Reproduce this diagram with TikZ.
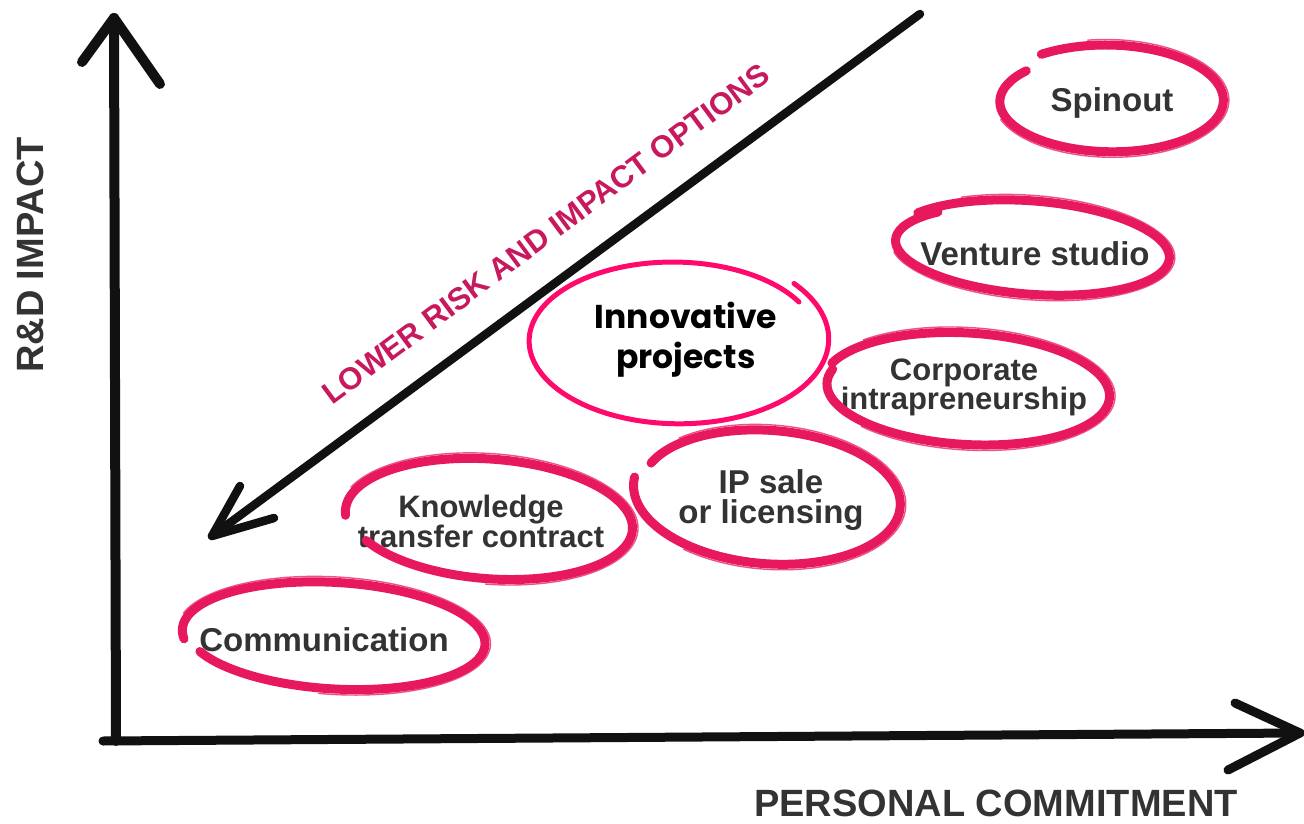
\documentclass[tikz,border=0pt]{standalone}
\usepackage{fontspec}
\setmainfont{Liberation Sans}
\newfontfamily\popfont{Poppins}
\definecolor{inkblack}{HTML}{111111}
\definecolor{pinkbrush}{HTML}{E8185D}
\definecolor{hotpink}{HTML}{FF0A6C}
\definecolor{labelgray}{HTML}{333333}
\definecolor{diagpink}{HTML}{C8185E}
% #1 node, #2 offset, #3 rx, #4 ry, #5 start, #6 sweep, #7 radius change, #8 rotation, #9 style
\newcommand\brushloop[9]{%
  \begin{scope}[shift={(#1.center)},shift={(#2)},rotate=#8]
    \draw[#9] plot[domain=#5:#5+#6, samples=90, smooth]
      ({(#3-#7*(\x-(#5))/(#6))*cos(\x)},{(#4-#7*(\x-(#5))/(#6))*sin(\x)});
  \end{scope}}
\newcommand\bristle[8]{%
  \begin{scope}[shift={(#1.center)},shift={(#2)},rotate=#8]
    \draw[bristleline] plot[domain=#5+25:#5+#6-60, samples=70, smooth]
      ({(#3+5.5-#7*(\x-(#5))/(#6))*cos(\x)},{(#4+5.5-#7*(\x-(#5))/(#6))*sin(\x)});
  \end{scope}}
\tikzset{
  axisline/.style={draw=inkblack, line width=10pt, line cap=round, line join=round},
  diagline/.style={draw=inkblack, line width=8.5pt, line cap=round, line join=round},
  brushstroke/.style={draw=pinkbrush, line width=9pt, line cap=round},
  bristleline/.style={draw=pinkbrush, line width=1.4pt, opacity=0.75, line cap=round},
  thinstroke/.style={draw=hotpink, line width=5pt, line cap=round},
  lbl/.style={font=\bfseries\fontsize{33}{30}\selectfont, text=labelgray, inner sep=0pt, align=center},
  lblsm/.style={font=\bfseries\fontsize{31}{29}\selectfont, text=labelgray, inner sep=0pt, align=center},
  axlbl/.style={font=\bfseries\fontsize{38}{38}\selectfont, text=labelgray, inner sep=0pt},
  innovlbl/.style={font=\popfont\bfseries\fontsize{33}{40}\selectfont, text=black, inner sep=0pt, align=center},
  diaglbl/.style={font=\bfseries\fontsize{31}{31}\selectfont, text=diagpink, inner sep=0pt}
}
\begin{document}
\begin{tikzpicture}[x=1pt,y=-1pt]
\fill[white] (0,0) rectangle (1304,824);
\useasboundingbox (0,0) rectangle (1304,824);

% axes
\coordinate (orig) at (116,741);
\coordinate (ytop) at (114,18);
\coordinate (ybl) at (82,62);
\coordinate (ybr) at (160,84);
\coordinate (xend) at (1300,733);
\coordinate (xbu) at (1235,703);
\coordinate (xbd) at (1228,770);
\coordinate (xstart) at (103,741);
\draw[axisline] (orig) -- (ytop);
\draw[axisline] (ybl) -- (ytop) -- (ybr);
\draw[axisline, line width=9pt] (xstart) -- (xend);
\draw[axisline, line width=9pt] (xbu) -- (xend) -- (xbd);

% diagonal arrow
\coordinate (dtop) at (920,14);
\coordinate (dtip) at (212,536);
\coordinate (dbl) at (240,486);
\coordinate (dbr) at (274,518);
\draw[diagline] (dtop) -- (dtip);
\draw[diagline] (dbl) -- (dtip) -- (dbr);

% labels
\node[axlbl, rotate=90] (ylab) at (30,255) {R\&D IMPACT};
\node[axlbl] (xlab) at (996,803) {PERSONAL COMMITMENT};
\node[diaglbl, rotate=36.6] (risk) at (546,234) {LOWER RISK AND IMPACT OPTIONS};

% option nodes
\node[lbl] (spin) at (1112,103) {Spinout};
\node[lbl] (vent) at (1035,254) {Venture studio};
\node[lblsm] (corp) at (964,387) {Corporate\\intrapreneurship};
\node[lbl] (ipsl) at (771,500) {IP sale\\or licensing};
\node[lblsm] (know) at (481,521) {Knowledge\\transfer contract};
\node[lbl] (comm) at (324,640) {Communication};
\node[innovlbl] (innov) at (686,340) {Innovative\\projects};

% hand-drawn loops
\brushloop{spin}{-3,-2}{118}{57}{235}{345}{10}{0}{brushstroke}
\bristle{spin}{-3,-2}{118}{57}{235}{345}{10}{0}
\brushloop{vent}{-4,-5}{141}{49}{215}{370}{6}{-4}{brushstroke}
\bristle{vent}{-4,-5}{141}{49}{215}{370}{6}{-4}
\brushloop{corp}{3,3}{145}{58}{200}{355}{5}{-3}{brushstroke}
\bristle{corp}{3,3}{145}{58}{200}{355}{5}{-3}
\brushloop{ipsl}{-2,-5}{128}{63}{200}{345}{-8}{-5}{brushstroke}
\bristle{ipsl}{-2,-5}{128}{63}{200}{345}{-8}{-5}
\brushloop{know}{9,-1}{145}{62}{175}{335}{4}{-4}{brushstroke}
\bristle{know}{9,-1}{145}{62}{175}{335}{4}{-4}
\brushloop{comm}{11,-3}{153}{56}{170}{345}{5}{-3}{brushstroke}
\bristle{comm}{11,-3}{153}{56}{170}{345}{5}{-3}
\brushloop{innov}{-10,0}{142}{76}{-30}{-370}{-12}{0}{thinstroke}
\end{tikzpicture}
\end{document}
